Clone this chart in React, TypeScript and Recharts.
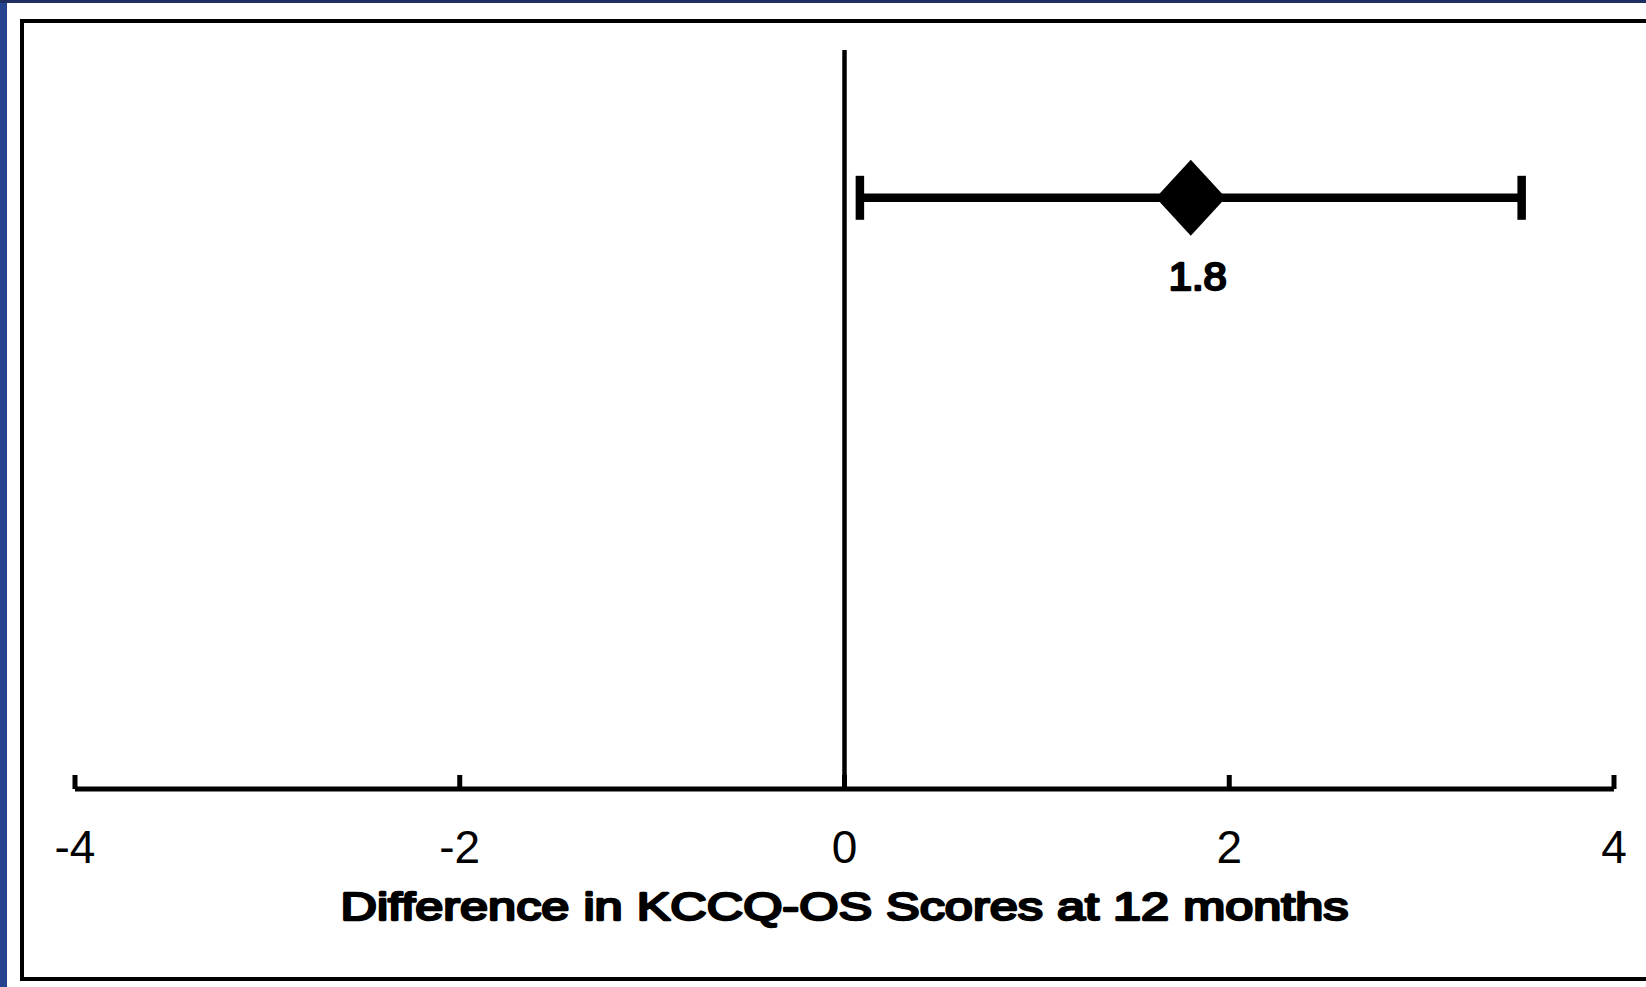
import React from 'react';
import { ScatterChart, Scatter, XAxis, YAxis, ReferenceLine, ErrorBar, LabelList } from 'recharts';

const xTicks = [-4, -2, 0, 2, 4];
const estimates = [1.8];
const lowerCI = [0.08];
const upperCI = [3.52];
const rowPositions = [0.8];
const pointLabels = ['1.8'];
const axisTitle = 'Difference in KCCQ-OS Scores at 12 months';

const data = estimates.map((v, i) => ({
  x: v,
  y: rowPositions[i],
  err: [v - lowerCI[i], upperCI[i] - v],
  label: pointLabels[i],
}));

const FONT = '"Liberation Sans", Arial, Helvetica, sans-serif';

const Diamond = (props: any) => {
  const { cx, cy } = props;
  if (cx == null || cy == null) return null;
  const hw = 35;
  const hh = 38;
  return (
    <polygon
      points={`${cx},${cy - hh} ${cx + hw},${cy} ${cx},${cy + hh} ${cx - hw},${cy}`}
      fill="#000"
    />
  );
};

const Tick = (props: any) => {
  const { x, y, payload } = props;
  return (
    <g>
      <line x1={x} x2={x} y1={y - 14} y2={y} stroke="#000" strokeWidth={5} />
      <text x={x} y={y + 74} textAnchor="middle" fontFamily={FONT} fontSize={46} fill="#000">
        {payload.value}
      </text>
    </g>
  );
};

const AxisTitle = (props: any) => {
  const { viewBox } = props;
  const vb = viewBox || { x: 0, y: 0, width: 0 };
  return (
    <text
      x={vb.x + vb.width / 2}
      y={vb.y + 131}
      textAnchor="middle"
      fontFamily={FONT}
      fontSize={39}
      fill="#000"
      stroke="#000"
      strokeWidth={2.4}
      strokeLinejoin="round"
      textLength={1008}
      lengthAdjust="spacingAndGlyphs"
    >
      {axisTitle}
    </text>
  );
};

const PointLabel = (props: any) => {
  const { x, y, width, height, value } = props;
  const cx = x + (width || 0) / 2;
  const cy = y + (height || 0) / 2;
  return (
    <text
      x={cx + 7}
      y={cy + 92}
      textAnchor="middle"
      fontFamily={FONT}
      fontSize={38}
      fill="#000"
      stroke="#000"
      strokeWidth={2.4}
      strokeLinejoin="round"
      textLength={58}
      lengthAdjust="spacingAndGlyphs"
    >
      {value}
    </text>
  );
};

export default function App() {
  return (
    <div
      style={{
        position: 'fixed',
        left: 0,
        top: 0,
        width: 1646,
        height: 987,
        overflow: 'hidden',
        background: '#fff',
      }}
    >
      <div style={{ position: 'absolute', left: 0, top: 0, width: 7, height: 987, background: '#26438f' }} />
      <div style={{ position: 'absolute', left: 0, top: 0, width: 1646, height: 3, background: '#1f2f62' }} />
      <div
        style={{
          position: 'absolute',
          left: 20,
          top: 19,
          width: 1700,
          height: 954,
          border: '4px solid #000',
        }}
      />
      <div style={{ position: 'absolute', left: 0, top: 0 }}>
        <ScatterChart width={1646} height={987} margin={{ top: 50, right: 32, bottom: 0, left: 75 }}>
          <XAxis
            type="number"
            dataKey="x"
            domain={[-4, 4]}
            ticks={xTicks}
            interval={0}
            allowDataOverflow
            height={198}
            tickSize={0}
            tickMargin={0}
            tickLine={false}
            axisLine={{ stroke: '#000', strokeWidth: 5 }}
            tick={<Tick />}
            label={<AxisTitle />}
          />
          <YAxis type="number" dataKey="y" domain={[0, 1]} hide />
          <ReferenceLine x={0} stroke="#000" strokeWidth={4.5} ifOverflow="extendDomain" />
          <Scatter data={data} shape={<Diamond />} isAnimationActive={false}>
            <ErrorBar dataKey="err" direction="x" width={22} strokeWidth={8.5} stroke="#000" isAnimationActive={false} />
            <LabelList dataKey="label" content={<PointLabel />} />
          </Scatter>
        </ScatterChart>
      </div>
    </div>
  );
}
